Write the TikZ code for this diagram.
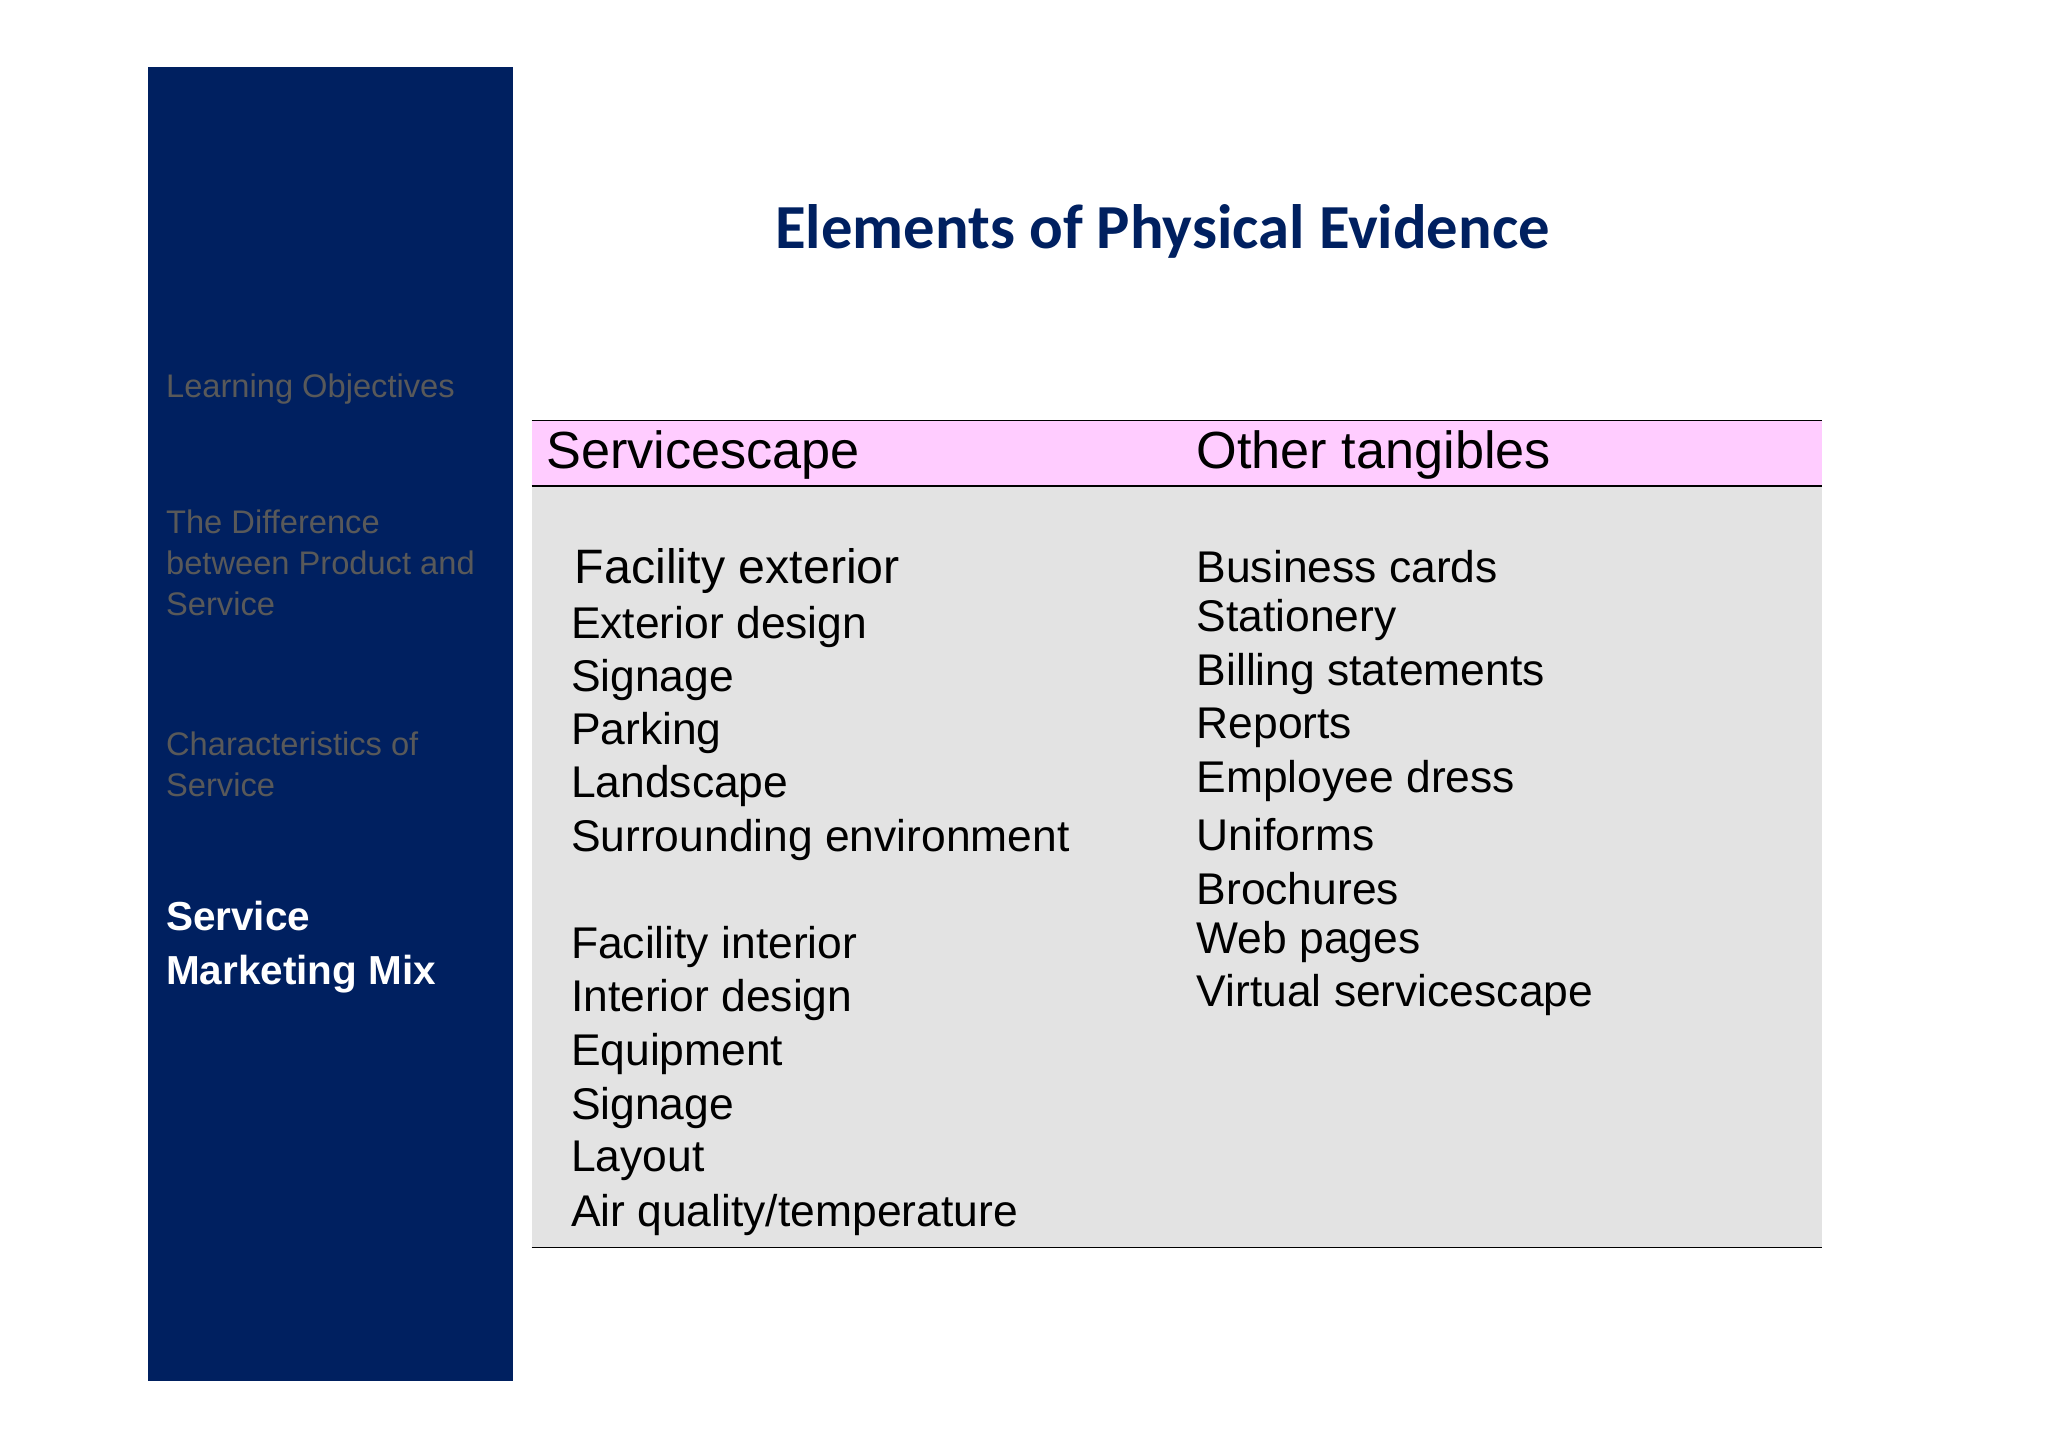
\documentclass[tikz,border=0pt]{standalone}
\usepackage{fontspec}
\setmainfont{Liberation Sans}
\newfontfamily\titlefont{Carlito}
\definecolor{navy}{RGB}{0,32,96}
\definecolor{sidegray}{RGB}{89,89,89}
\definecolor{pinkband}{RGB}{255,204,255}
\definecolor{bodygray}{RGB}{227,227,227}
\begin{document}
\begin{tikzpicture}[x=1pt,y=-1pt,
  side/.style={anchor=west,inner sep=0,text=sidegray,font=\fontsize{25}{31.5}\selectfont,align=left},
  head/.style={anchor=west,inner sep=0,font=\fontsize{40}{48}\selectfont},
  item/.style={anchor=west,inner sep=0,font=\fontsize{34}{40}\selectfont}]
\useasboundingbox (0,0) rectangle (1568,1108);
\fill[navy] (113,51) rectangle (393,1057);
\node[anchor=center,text=navy,font=\titlefont\bfseries\fontsize{48}{56}\selectfont] (title) at (890,177) {Elements of Physical Evidence};
\node[side] (s1) at (127,298) {Learning Objectives};
\node[side,anchor=north west] (s2) at (127,390) {The Difference\\between Product and\\Service};
\node[side,anchor=north west] (s3) at (127,560) {Characteristics of\\Service};
\node[side,anchor=north west,text=white,font=\bfseries\fontsize{31}{41}\selectfont] (s4) at (127,690) {Service\\Marketing Mix};
\fill[pinkband] (407,322) rectangle (1395,372);
\fill[bodygray] (407,372) rectangle (1395,955);
\draw[line width=1.2pt] (407,322) -- (1395,322);
\draw[line width=1.2pt] (407,372) -- (1395,372);
\draw[line width=1.2pt] (407,955) -- (1395,955);
\node[head] (h1) at (418,348) {Servicescape};
\node[head] (h2) at (916,348) {Other tangibles};
\node[item,font=\fontsize{37}{44}\selectfont] (l0) at (440,437) {Facility exterior};
\foreach \t/\y [count=\i] in {Exterior design/480,Signage/521,Parking/561,Landscape/602,Surrounding environment/643,Facility interior/725,Interior design/766,Equipment/807,Signage/848,Layout/889,{Air quality{/}temperature}/930}
  \node[item] (l\i) at (437,\y) {\t};
\foreach \t/\y [count=\i] in {Business cards/434,Stationery/475,Billing statements/516,Reports/557,Employee dress/598,Uniforms/639,Brochures/680,Web pages/721,Virtual servicescape/762}
  \node[item] (r\i) at (916,\y) {\t};
\end{tikzpicture}
\end{document}
